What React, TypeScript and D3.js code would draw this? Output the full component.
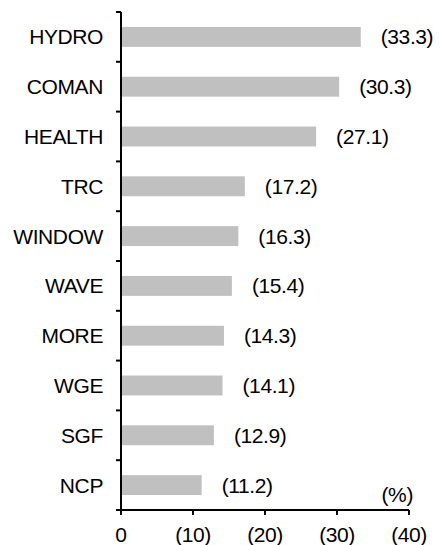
import React, { useEffect, useRef } from "react";
import * as d3 from "d3";

const categories = ["HYDRO", "COMAN", "HEALTH", "TRC", "WINDOW", "WAVE", "MORE", "WGE", "SGF", "NCP"];
const values = [33.3, 30.3, 27.1, 17.2, 16.3, 15.4, 14.3, 14.1, 12.9, 11.2];
const xTicks = [0, 10, 20, 30, 40];
const xTickLabels = ["0", "(10)", "(20)", "(30)", "(40)"];

export default function App() {
  const svgRef = useRef<SVGSVGElement>(null);
  const width = 441;
  const height = 545;

  useEffect(() => {
    const svgEl = svgRef.current;
    if (!svgEl) return;
    d3.select(svgEl).selectAll("*").remove();

    const svg = d3.select(svgEl);
    const font = "'Liberation Sans', Arial, sans-serif";
    const fs = 21;
    const ls = -0.4;

    const x = d3.scaleLinear().domain([0, 40]).range([121, 409]);
    const y = d3.scaleBand<string>()
      .domain(categories)
      .range([12, 510])
      .paddingInner(0.6)
      .paddingOuter(0.3);
    const step = y.step();

    // bars
    svg.append("g")
      .selectAll("rect")
      .data(values)
      .join("rect")
      .attr("x", x(0) + 1)
      .attr("y", (d, i) => y(categories[i])!)
      .attr("width", (d) => x(d) - x(0) - 1)
      .attr("height", y.bandwidth())
      .attr("fill", "#c0c0c0");

    // value labels
    svg.append("g")
      .selectAll("text")
      .data(values)
      .join("text")
      .attr("x", (d) => x(d) + 20)
      .attr("y", (d, i) => y(categories[i])! + y.bandwidth() / 2 + 7.5)
      .attr("font-family", font)
      .attr("font-size", fs)
      .attr("letter-spacing", ls)
      .attr("fill", "#000")
      .text((d) => `(${d.toFixed(1)})`);

    // category labels
    svg.append("g")
      .selectAll("text")
      .data(categories)
      .join("text")
      .attr("x", 103)
      .attr("y", (d) => y(d)! + y.bandwidth() / 2 + 7.5)
      .attr("text-anchor", "end")
      .attr("font-family", font)
      .attr("font-size", fs)
      .attr("letter-spacing", ls)
      .attr("fill", "#000")
      .text((d) => d);

    // y axis
    const yTop = y(categories[0])! - step * 0.3;
    const yBottom = yTop + step * categories.length;
    svg.append("line")
      .attr("x1", x(0)).attr("x2", x(0))
      .attr("y1", yTop).attr("y2", yBottom)
      .attr("stroke", "#000").attr("stroke-width", 2);
    svg.append("g")
      .selectAll("line")
      .data(d3.range(categories.length))
      .join("line")
      .attr("x1", x(0) - 5).attr("x2", x(0))
      .attr("y1", (i) => yTop + i * step)
      .attr("y2", (i) => yTop + i * step)
      .attr("stroke", "#000").attr("stroke-width", 2);

    // x axis
    svg.append("line")
      .attr("x1", x(0) - 5).attr("x2", x(40))
      .attr("y1", yBottom).attr("y2", yBottom)
      .attr("stroke", "#000").attr("stroke-width", 2);
    svg.append("g")
      .selectAll("line")
      .data(xTicks)
      .join("line")
      .attr("x1", (d) => x(d)).attr("x2", (d) => x(d))
      .attr("y1", yBottom).attr("y2", yBottom + 5)
      .attr("stroke", "#000").attr("stroke-width", 2);
    svg.append("g")
      .selectAll("text")
      .data(xTicks)
      .join("text")
      .attr("x", (d) => x(d))
      .attr("y", 542)
      .attr("text-anchor", "middle")
      .attr("font-family", font)
      .attr("font-size", fs)
      .attr("letter-spacing", ls)
      .attr("fill", "#000")
      .text((d, i) => xTickLabels[i]);

    // unit
    svg.append("text")
      .attr("x", 413)
      .attr("y", 502)
      .attr("text-anchor", "end")
      .attr("font-family", font)
      .attr("font-size", fs)
      .attr("letter-spacing", ls)
      .attr("fill", "#000")
      .text("(%)");
  }, []);

  return (
    <svg
      ref={svgRef}
      width={width}
      height={height}
      style={{ position: "absolute", left: 0, top: 0, background: "#fff" }}
    />
  );
}
